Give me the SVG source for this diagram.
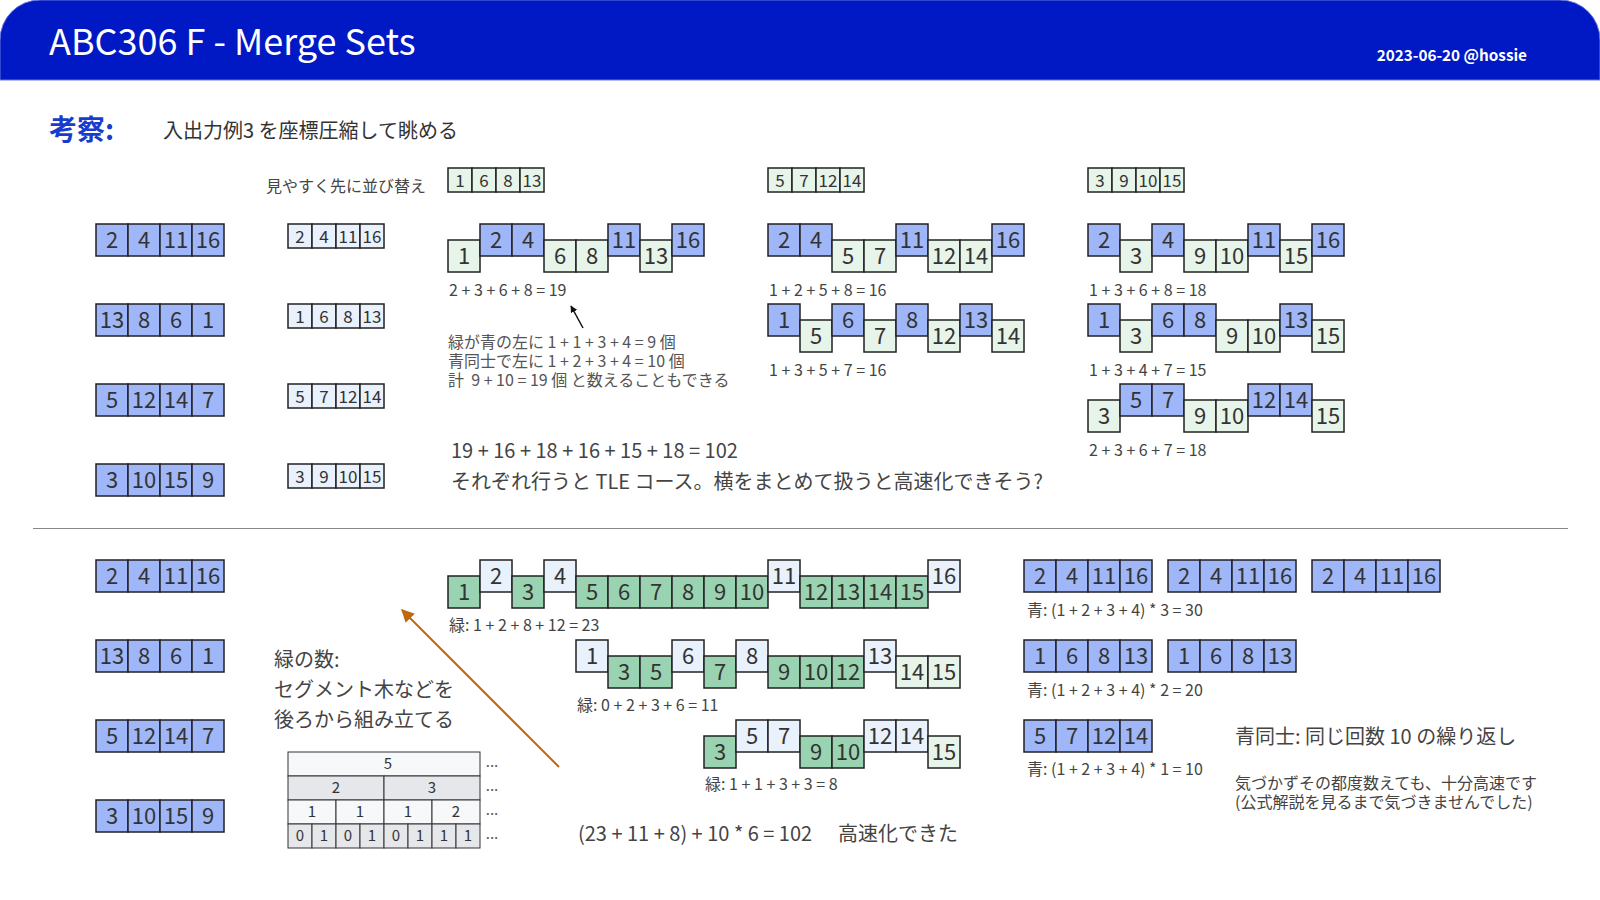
<svg xmlns="http://www.w3.org/2000/svg" width="1600" height="900" viewBox="0 0 1600 900">
<defs>
<style>
text{font-family:"Noto Sans CJK JP","Noto Sans",sans-serif;}
.c rect{stroke:#222;stroke-width:1.5;}
.b{fill:#9fb7f9;}
.lb{fill:#e8f1fc;}
.lg{fill:#e7f4ea;}
.dg{fill:#99d3b1;}
.c text{fill:#333;font-size:22px;text-anchor:middle;}
.s text{font-size:17px;}
.lab{fill:#444;font-size:16px;}
.note{fill:#444;font-size:20px;}
.tn{fill:#555;font-size:16px;white-space:pre;}
.tr rect{stroke:#333;stroke-width:1;}
.tr text{fill:#333;font-size:15px;text-anchor:middle;}
.t1{fill:#f7f8fa;}
.t2{fill:#e6e7ea;}
</style>
<marker id="ahk" viewBox="0 0 10 10" refX="9" refY="5" markerWidth="7" markerHeight="7" orient="auto-start-reverse" markerUnits="userSpaceOnUse"><path d="M0,0 L10,5 L0,10 z" fill="#111"/></marker>
<marker id="aho" viewBox="0 0 10 10" refX="9" refY="5" markerWidth="13" markerHeight="13" orient="auto-start-reverse" markerUnits="userSpaceOnUse"><path d="M0,0 L10,5 L0,10 z" fill="#c2660c"/></marker>
</defs>
<rect width="1600" height="900" fill="#ffffff"/>
<g id="header">
<path d="M0,80 V40 A40,40 0 0 1 40,0 H1560 A40,40 0 0 1 1600,40 V80 Z" fill="#0019c4" stroke="#6577dd" stroke-width="1"/>
<text x="49" y="55" font-size="36" fill="#ffffff">ABC306 F - Merge Sets</text>
<text x="1527" y="61" font-size="15.3" font-weight="bold" fill="#ffffff" text-anchor="end">2023-06-20 @hossie</text>
</g>
<g id="intro">
<text x="49" y="140" font-size="28" font-weight="bold" fill="#1a3ccc">考察:</text>
<text x="163" y="138" font-size="20" fill="#333">入出力例3 を座標圧縮して眺める</text>
<text x="266" y="192" font-size="16" fill="#444">見やすく先に並び替え</text>
</g>

<!-- top-left original arrays -->
<g id="top-a1" class="c" transform="translate(96,224)"><rect class="b" x="0" y="0" width="32" height="32"/><rect class="b" x="32" y="0" width="32" height="32"/><rect class="b" x="64" y="0" width="32" height="32"/><rect class="b" x="96" y="0" width="32" height="32"/><text x="16" y="24">2</text><text x="48" y="24">4</text><text x="80" y="24">11</text><text x="112" y="24">16</text></g>
<g id="top-a2" class="c" transform="translate(96,304)"><rect class="b" x="0" y="0" width="32" height="32"/><rect class="b" x="32" y="0" width="32" height="32"/><rect class="b" x="64" y="0" width="32" height="32"/><rect class="b" x="96" y="0" width="32" height="32"/><text x="16" y="24">13</text><text x="48" y="24">8</text><text x="80" y="24">6</text><text x="112" y="24">1</text></g>
<g id="top-a3" class="c" transform="translate(96,384)"><rect class="b" x="0" y="0" width="32" height="32"/><rect class="b" x="32" y="0" width="32" height="32"/><rect class="b" x="64" y="0" width="32" height="32"/><rect class="b" x="96" y="0" width="32" height="32"/><text x="16" y="24">5</text><text x="48" y="24">12</text><text x="80" y="24">14</text><text x="112" y="24">7</text></g>
<g id="top-a4" class="c" transform="translate(96,464)"><rect class="b" x="0" y="0" width="32" height="32"/><rect class="b" x="32" y="0" width="32" height="32"/><rect class="b" x="64" y="0" width="32" height="32"/><rect class="b" x="96" y="0" width="32" height="32"/><text x="16" y="24">3</text><text x="48" y="24">10</text><text x="80" y="24">15</text><text x="112" y="24">9</text></g>

<!-- sorted small arrays -->
<g id="sorted-1" class="c s" transform="translate(288,224)"><rect class="lb" x="0" y="0" width="24" height="24"/><rect class="lb" x="24" y="0" width="24" height="24"/><rect class="lb" x="48" y="0" width="24" height="24"/><rect class="lb" x="72" y="0" width="24" height="24"/><text x="12" y="18.5">2</text><text x="36" y="18.5">4</text><text x="60" y="18.5">11</text><text x="84" y="18.5">16</text></g>
<g id="sorted-2" class="c s" transform="translate(288,304)"><rect class="lb" x="0" y="0" width="24" height="24"/><rect class="lb" x="24" y="0" width="24" height="24"/><rect class="lb" x="48" y="0" width="24" height="24"/><rect class="lb" x="72" y="0" width="24" height="24"/><text x="12" y="18.5">1</text><text x="36" y="18.5">6</text><text x="60" y="18.5">8</text><text x="84" y="18.5">13</text></g>
<g id="sorted-3" class="c s" transform="translate(288,384)"><rect class="lb" x="0" y="0" width="24" height="24"/><rect class="lb" x="24" y="0" width="24" height="24"/><rect class="lb" x="48" y="0" width="24" height="24"/><rect class="lb" x="72" y="0" width="24" height="24"/><text x="12" y="18.5">5</text><text x="36" y="18.5">7</text><text x="60" y="18.5">12</text><text x="84" y="18.5">14</text></g>
<g id="sorted-4" class="c s" transform="translate(288,464)"><rect class="lb" x="0" y="0" width="24" height="24"/><rect class="lb" x="24" y="0" width="24" height="24"/><rect class="lb" x="48" y="0" width="24" height="24"/><rect class="lb" x="72" y="0" width="24" height="24"/><text x="12" y="18.5">3</text><text x="36" y="18.5">9</text><text x="60" y="18.5">10</text><text x="84" y="18.5">15</text></g>

<!-- green small arrays -->
<g id="green-1" class="c s" transform="translate(448,168)"><rect class="lg" x="0" y="0" width="24" height="24"/><rect class="lg" x="24" y="0" width="24" height="24"/><rect class="lg" x="48" y="0" width="24" height="24"/><rect class="lg" x="72" y="0" width="24" height="24"/><text x="12" y="18.5">1</text><text x="36" y="18.5">6</text><text x="60" y="18.5">8</text><text x="84" y="18.5">13</text></g>
<g id="green-2" class="c s" transform="translate(768,168)"><rect class="lg" x="0" y="0" width="24" height="24"/><rect class="lg" x="24" y="0" width="24" height="24"/><rect class="lg" x="48" y="0" width="24" height="24"/><rect class="lg" x="72" y="0" width="24" height="24"/><text x="12" y="18.5">5</text><text x="36" y="18.5">7</text><text x="60" y="18.5">12</text><text x="84" y="18.5">14</text></g>
<g id="green-3" class="c s" transform="translate(1088,168)"><rect class="lg" x="0" y="0" width="24" height="24"/><rect class="lg" x="24" y="0" width="24" height="24"/><rect class="lg" x="48" y="0" width="24" height="24"/><rect class="lg" x="72" y="0" width="24" height="24"/><text x="12" y="18.5">3</text><text x="36" y="18.5">9</text><text x="60" y="18.5">10</text><text x="84" y="18.5">15</text></g>

<!-- merge rows top -->
<g id="merge-1" class="c" transform="translate(448,224)">
<rect class="lg" x="0" y="16" width="32" height="32"/><rect class="b" x="32" y="0" width="32" height="32"/><rect class="b" x="64" y="0" width="32" height="32"/><rect class="lg" x="96" y="16" width="32" height="32"/><rect class="lg" x="128" y="16" width="32" height="32"/><rect class="b" x="160" y="0" width="32" height="32"/><rect class="lg" x="192" y="16" width="32" height="32"/><rect class="b" x="224" y="0" width="32" height="32"/>
<text x="16" y="40">1</text><text x="48" y="24">2</text><text x="80" y="24">4</text><text x="112" y="40">6</text><text x="144" y="40">8</text><text x="176" y="24">11</text><text x="208" y="40">13</text><text x="240" y="24">16</text>
</g>
<text class="lab" x="449" y="296">2 + 3 + 6 + 8 = 19</text>

<g id="merge-2" class="c" transform="translate(768,224)">
<rect class="b" x="0" y="0" width="32" height="32"/><rect class="b" x="32" y="0" width="32" height="32"/><rect class="lg" x="64" y="16" width="32" height="32"/><rect class="lg" x="96" y="16" width="32" height="32"/><rect class="b" x="128" y="0" width="32" height="32"/><rect class="lg" x="160" y="16" width="32" height="32"/><rect class="lg" x="192" y="16" width="32" height="32"/><rect class="b" x="224" y="0" width="32" height="32"/>
<text x="16" y="24">2</text><text x="48" y="24">4</text><text x="80" y="40">5</text><text x="112" y="40">7</text><text x="144" y="24">11</text><text x="176" y="40">12</text><text x="208" y="40">14</text><text x="240" y="24">16</text>
</g>
<text class="lab" x="769" y="296">1 + 2 + 5 + 8 = 16</text>

<g id="merge-3" class="c" transform="translate(768,304)">
<rect class="b" x="0" y="0" width="32" height="32"/><rect class="lg" x="32" y="16" width="32" height="32"/><rect class="b" x="64" y="0" width="32" height="32"/><rect class="lg" x="96" y="16" width="32" height="32"/><rect class="b" x="128" y="0" width="32" height="32"/><rect class="lg" x="160" y="16" width="32" height="32"/><rect class="b" x="192" y="0" width="32" height="32"/><rect class="lg" x="224" y="16" width="32" height="32"/>
<text x="16" y="24">1</text><text x="48" y="40">5</text><text x="80" y="24">6</text><text x="112" y="40">7</text><text x="144" y="24">8</text><text x="176" y="40">12</text><text x="208" y="24">13</text><text x="240" y="40">14</text>
</g>
<text class="lab" x="769" y="376">1 + 3 + 5 + 7 = 16</text>

<g id="merge-4" class="c" transform="translate(1088,224)">
<rect class="b" x="0" y="0" width="32" height="32"/><rect class="lg" x="32" y="16" width="32" height="32"/><rect class="b" x="64" y="0" width="32" height="32"/><rect class="lg" x="96" y="16" width="32" height="32"/><rect class="lg" x="128" y="16" width="32" height="32"/><rect class="b" x="160" y="0" width="32" height="32"/><rect class="lg" x="192" y="16" width="32" height="32"/><rect class="b" x="224" y="0" width="32" height="32"/>
<text x="16" y="24">2</text><text x="48" y="40">3</text><text x="80" y="24">4</text><text x="112" y="40">9</text><text x="144" y="40">10</text><text x="176" y="24">11</text><text x="208" y="40">15</text><text x="240" y="24">16</text>
</g>
<text class="lab" x="1089" y="296">1 + 3 + 6 + 8 = 18</text>

<g id="merge-5" class="c" transform="translate(1088,304)">
<rect class="b" x="0" y="0" width="32" height="32"/><rect class="lg" x="32" y="16" width="32" height="32"/><rect class="b" x="64" y="0" width="32" height="32"/><rect class="b" x="96" y="0" width="32" height="32"/><rect class="lg" x="128" y="16" width="32" height="32"/><rect class="lg" x="160" y="16" width="32" height="32"/><rect class="b" x="192" y="0" width="32" height="32"/><rect class="lg" x="224" y="16" width="32" height="32"/>
<text x="16" y="24">1</text><text x="48" y="40">3</text><text x="80" y="24">6</text><text x="112" y="24">8</text><text x="144" y="40">9</text><text x="176" y="40">10</text><text x="208" y="24">13</text><text x="240" y="40">15</text>
</g>
<text class="lab" x="1089" y="376">1 + 3 + 4 + 7 = 15</text>

<g id="merge-6" class="c" transform="translate(1088,384)">
<rect class="lg" x="0" y="16" width="32" height="32"/><rect class="b" x="32" y="0" width="32" height="32"/><rect class="b" x="64" y="0" width="32" height="32"/><rect class="lg" x="96" y="16" width="32" height="32"/><rect class="lg" x="128" y="16" width="32" height="32"/><rect class="b" x="160" y="0" width="32" height="32"/><rect class="b" x="192" y="0" width="32" height="32"/><rect class="lg" x="224" y="16" width="32" height="32"/>
<text x="16" y="40">3</text><text x="48" y="24">5</text><text x="80" y="24">7</text><text x="112" y="40">9</text><text x="144" y="40">10</text><text x="176" y="24">12</text><text x="208" y="24">14</text><text x="240" y="40">15</text>
</g>
<text class="lab" x="1089" y="456">2 + 3 + 6 + 7 = 18</text>

<g id="note-top">
<text class="tn" x="448" y="348">緑が青の左に 1 + 1 + 3 + 4 = 9 個</text>
<text class="tn" x="448" y="367">青同士で左に 1 + 2 + 3 + 4 = 10 個</text>
<text class="tn" x="448" y="386">計  9 + 10 = 19 個 と数えることもできる</text>
</g>
<g id="summary-top">
<text class="note" x="451" y="458">19 + 16 + 18 + 16 + 15 + 18 = 102</text>
<text class="note" x="451" y="489">それぞれ行うと TLE コース。横をまとめて扱うと高速化できそう?</text>
</g>

<line id="divider" x1="33" y1="528.5" x2="1568" y2="528.5" stroke="#888" stroke-width="1"/>

<!-- bottom-left arrays -->
<g id="bot-a1" class="c" transform="translate(96,560)"><rect class="b" x="0" y="0" width="32" height="32"/><rect class="b" x="32" y="0" width="32" height="32"/><rect class="b" x="64" y="0" width="32" height="32"/><rect class="b" x="96" y="0" width="32" height="32"/><text x="16" y="24">2</text><text x="48" y="24">4</text><text x="80" y="24">11</text><text x="112" y="24">16</text></g>
<g id="bot-a2" class="c" transform="translate(96,640)"><rect class="b" x="0" y="0" width="32" height="32"/><rect class="b" x="32" y="0" width="32" height="32"/><rect class="b" x="64" y="0" width="32" height="32"/><rect class="b" x="96" y="0" width="32" height="32"/><text x="16" y="24">13</text><text x="48" y="24">8</text><text x="80" y="24">6</text><text x="112" y="24">1</text></g>
<g id="bot-a3" class="c" transform="translate(96,720)"><rect class="b" x="0" y="0" width="32" height="32"/><rect class="b" x="32" y="0" width="32" height="32"/><rect class="b" x="64" y="0" width="32" height="32"/><rect class="b" x="96" y="0" width="32" height="32"/><text x="16" y="24">5</text><text x="48" y="24">12</text><text x="80" y="24">14</text><text x="112" y="24">7</text></g>
<g id="bot-a4" class="c" transform="translate(96,800)"><rect class="b" x="0" y="0" width="32" height="32"/><rect class="b" x="32" y="0" width="32" height="32"/><rect class="b" x="64" y="0" width="32" height="32"/><rect class="b" x="96" y="0" width="32" height="32"/><text x="16" y="24">3</text><text x="48" y="24">10</text><text x="80" y="24">15</text><text x="112" y="24">9</text></g>

<g id="note-green">
<text class="note" x="274" y="667">緑の数:</text>
<text class="note" x="274" y="697">セグメント木などを</text>
<text class="note" x="274" y="727">後ろから組み立てる</text>
</g>

<g id="segtree" class="tr">
<rect class="t1" x="288" y="752" width="192" height="24"/>
<rect class="t2" x="288" y="776" width="96" height="24"/><rect class="t2" x="384" y="776" width="96" height="24"/>
<rect class="t1" x="288" y="800" width="48" height="24"/><rect class="t1" x="336" y="800" width="48" height="24"/><rect class="t1" x="384" y="800" width="48" height="24"/><rect class="t1" x="432" y="800" width="48" height="24"/>
<rect class="t2" x="288" y="824" width="24" height="24"/><rect class="t2" x="312" y="824" width="24" height="24"/><rect class="t2" x="336" y="824" width="24" height="24"/><rect class="t2" x="360" y="824" width="24" height="24"/><rect class="t2" x="384" y="824" width="24" height="24"/><rect class="t2" x="408" y="824" width="24" height="24"/><rect class="t2" x="432" y="824" width="24" height="24"/><rect class="t2" x="456" y="824" width="24" height="24"/>
<text x="388" y="769">5</text>
<text x="336" y="793">2</text><text x="432" y="793">3</text>
<text x="312" y="817">1</text><text x="360" y="817">1</text><text x="408" y="817">1</text><text x="456" y="817">2</text>
<text x="300" y="841">0</text><text x="324" y="841">1</text><text x="348" y="841">0</text><text x="372" y="841">1</text><text x="396" y="841">0</text><text x="420" y="841">1</text><text x="444" y="841">1</text><text x="468" y="841">1</text>
<text x="492" y="767" style="text-anchor:middle;fill:#555">...</text><text x="492" y="791" style="text-anchor:middle;fill:#555">...</text><text x="492" y="815" style="text-anchor:middle;fill:#555">...</text><text x="492" y="839" style="text-anchor:middle;fill:#555">...</text>
</g>

<!-- bottom merge rows -->
<g id="green-row-1" class="c" transform="translate(448,560)">
<rect class="dg" x="0" y="16" width="32" height="32"/><rect class="lb" x="32" y="0" width="32" height="32"/><rect class="dg" x="64" y="16" width="32" height="32"/><rect class="lb" x="96" y="0" width="32" height="32"/><rect class="dg" x="128" y="16" width="32" height="32"/><rect class="dg" x="160" y="16" width="32" height="32"/><rect class="dg" x="192" y="16" width="32" height="32"/><rect class="dg" x="224" y="16" width="32" height="32"/><rect class="dg" x="256" y="16" width="32" height="32"/><rect class="dg" x="288" y="16" width="32" height="32"/><rect class="lb" x="320" y="0" width="32" height="32"/><rect class="dg" x="352" y="16" width="32" height="32"/><rect class="dg" x="384" y="16" width="32" height="32"/><rect class="dg" x="416" y="16" width="32" height="32"/><rect class="dg" x="448" y="16" width="32" height="32"/><rect class="lb" x="480" y="0" width="32" height="32"/>
<text x="16" y="40">1</text><text x="48" y="24">2</text><text x="80" y="40">3</text><text x="112" y="24">4</text><text x="144" y="40">5</text><text x="176" y="40">6</text><text x="208" y="40">7</text><text x="240" y="40">8</text><text x="272" y="40">9</text><text x="304" y="40">10</text><text x="336" y="24">11</text><text x="368" y="40">12</text><text x="400" y="40">13</text><text x="432" y="40">14</text><text x="464" y="40">15</text><text x="496" y="24">16</text>
</g>
<text class="lab" x="449" y="631">緑: 1 + 2 + 8 + 12 = 23</text>

<g id="green-row-2" class="c" transform="translate(576,640)">
<rect class="lb" x="0" y="0" width="32" height="32"/><rect class="dg" x="32" y="16" width="32" height="32"/><rect class="dg" x="64" y="16" width="32" height="32"/><rect class="lb" x="96" y="0" width="32" height="32"/><rect class="dg" x="128" y="16" width="32" height="32"/><rect class="lb" x="160" y="0" width="32" height="32"/><rect class="dg" x="192" y="16" width="32" height="32"/><rect class="dg" x="224" y="16" width="32" height="32"/><rect class="dg" x="256" y="16" width="32" height="32"/><rect class="lb" x="288" y="0" width="32" height="32"/><rect class="lg" x="320" y="16" width="32" height="32"/><rect class="lg" x="352" y="16" width="32" height="32"/>
<text x="16" y="24">1</text><text x="48" y="40">3</text><text x="80" y="40">5</text><text x="112" y="24">6</text><text x="144" y="40">7</text><text x="176" y="24">8</text><text x="208" y="40">9</text><text x="240" y="40">10</text><text x="272" y="40">12</text><text x="304" y="24">13</text><text x="336" y="40">14</text><text x="368" y="40">15</text>
</g>
<text class="lab" x="577" y="711">緑: 0 + 2 + 3 + 6 = 11</text>

<g id="green-row-3" class="c" transform="translate(704,720)">
<rect class="dg" x="0" y="16" width="32" height="32"/><rect class="lb" x="32" y="0" width="32" height="32"/><rect class="lb" x="64" y="0" width="32" height="32"/><rect class="dg" x="96" y="16" width="32" height="32"/><rect class="dg" x="128" y="16" width="32" height="32"/><rect class="lb" x="160" y="0" width="32" height="32"/><rect class="lb" x="192" y="0" width="32" height="32"/><rect class="lg" x="224" y="16" width="32" height="32"/>
<text x="16" y="40">3</text><text x="48" y="24">5</text><text x="80" y="24">7</text><text x="112" y="40">9</text><text x="144" y="40">10</text><text x="176" y="24">12</text><text x="208" y="24">14</text><text x="240" y="40">15</text>
</g>
<text class="lab" x="705" y="790">緑: 1 + 1 + 3 + 3 = 8</text>

<g id="result">
<text class="note" x="578" y="841">(23 + 11 + 8) + 10 * 6 = 102</text>
<text class="note" x="838" y="841">高速化できた</text>
</g>

<!-- right blue arrays -->
<g id="blue-1a" class="c" transform="translate(1024,560)"><rect class="b" x="0" y="0" width="32" height="32"/><rect class="b" x="32" y="0" width="32" height="32"/><rect class="b" x="64" y="0" width="32" height="32"/><rect class="b" x="96" y="0" width="32" height="32"/><text x="16" y="24">2</text><text x="48" y="24">4</text><text x="80" y="24">11</text><text x="112" y="24">16</text></g>
<g id="blue-1b" class="c" transform="translate(1168,560)"><rect class="b" x="0" y="0" width="32" height="32"/><rect class="b" x="32" y="0" width="32" height="32"/><rect class="b" x="64" y="0" width="32" height="32"/><rect class="b" x="96" y="0" width="32" height="32"/><text x="16" y="24">2</text><text x="48" y="24">4</text><text x="80" y="24">11</text><text x="112" y="24">16</text></g>
<g id="blue-1c" class="c" transform="translate(1312,560)"><rect class="b" x="0" y="0" width="32" height="32"/><rect class="b" x="32" y="0" width="32" height="32"/><rect class="b" x="64" y="0" width="32" height="32"/><rect class="b" x="96" y="0" width="32" height="32"/><text x="16" y="24">2</text><text x="48" y="24">4</text><text x="80" y="24">11</text><text x="112" y="24">16</text></g>
<text class="lab" x="1027" y="616">青: (1 + 2 + 3 + 4) * 3 = 30</text>
<g id="blue-2a" class="c" transform="translate(1024,640)"><rect class="b" x="0" y="0" width="32" height="32"/><rect class="b" x="32" y="0" width="32" height="32"/><rect class="b" x="64" y="0" width="32" height="32"/><rect class="b" x="96" y="0" width="32" height="32"/><text x="16" y="24">1</text><text x="48" y="24">6</text><text x="80" y="24">8</text><text x="112" y="24">13</text></g>
<g id="blue-2b" class="c" transform="translate(1168,640)"><rect class="b" x="0" y="0" width="32" height="32"/><rect class="b" x="32" y="0" width="32" height="32"/><rect class="b" x="64" y="0" width="32" height="32"/><rect class="b" x="96" y="0" width="32" height="32"/><text x="16" y="24">1</text><text x="48" y="24">6</text><text x="80" y="24">8</text><text x="112" y="24">13</text></g>
<text class="lab" x="1027" y="696">青: (1 + 2 + 3 + 4) * 2 = 20</text>
<g id="blue-3a" class="c" transform="translate(1024,720)"><rect class="b" x="0" y="0" width="32" height="32"/><rect class="b" x="32" y="0" width="32" height="32"/><rect class="b" x="64" y="0" width="32" height="32"/><rect class="b" x="96" y="0" width="32" height="32"/><text x="16" y="24">5</text><text x="48" y="24">7</text><text x="80" y="24">12</text><text x="112" y="24">14</text></g>
<text class="lab" x="1027" y="775">青: (1 + 2 + 3 + 4) * 1 = 10</text>

<g id="note-blue">
<text class="note" x="1235" y="744">青同士: 同じ回数 10 の繰り返し</text>
<text x="1235" y="789" font-size="16" fill="#444">気づかずその都度数えても、十分高速です</text>
<text x="1235" y="808" font-size="16" fill="#444">(公式解説を見るまで気づきませんでした)</text>
</g>

<g id="connectors">
<line x1="583" y1="328" x2="571" y2="306" stroke="#111" stroke-width="1.5" marker-end="url(#ahk)"/>
<line x1="559" y1="767" x2="402" y2="610" stroke="#c2660c" stroke-width="2" marker-end="url(#aho)"/>
</g>
</svg>
